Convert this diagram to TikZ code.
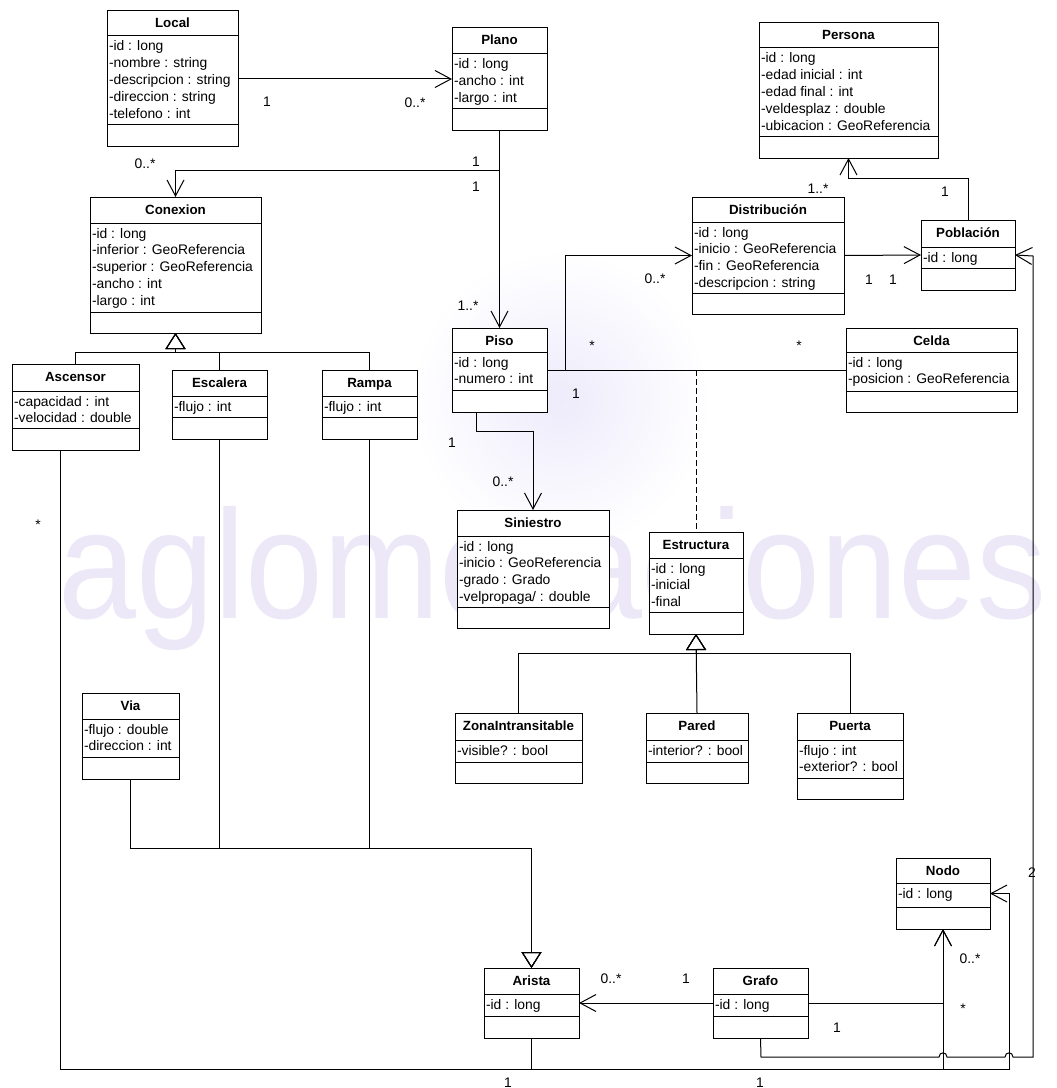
\documentclass[tikz,border=0pt]{standalone}
\usepackage{fontspec}
\setmainfont{Liberation Sans}
\usetikzlibrary{arrows.meta}

\definecolor{wmark}{RGB}{236,232,248}
\definecolor{glow}{RGB}{238,235,251}

% UML class: name, x0, y0, x1, y1, first separator, second separator, title, attributes
\newcommand\UMLbox[9]{%
  \node[classbox, minimum width={(#4-#2)*0.75pt}, minimum height={(#5-#3)*0.75pt}] (#1) at (#2,#3) {};
  \draw[sepline] (#2,#6) -- (#4,#6);
  \draw[sepline] (#2,#7) -- (#4,#7);
  \node[anchor=base, inner sep=0pt, font=\bfseries] at ({(#2+#4)/2},{#3+17}) {#8};
  \foreach \atxt [count=\k] in {#9}
    \node[anchor=base west, inner sep=0pt] at ({#2+1.5},{#6+15+16.8*(\k-1)}) {\atxt};
}

\begin{document}
\begin{tikzpicture}[x=0.75pt, y=-0.75pt,
  font=\fontsize{10.4pt}{12.5pt}\selectfont,
  line width=0.75pt,
  classbox/.style={draw, fill=white, anchor=north west, inner sep=0pt, outer sep=0pt},
  sepline/.style={line width=0.75pt},
  assoc/.style={-{Straight Barb[length=12pt,width=12.75pt]}},
  gen/.style={-{Triangle[open,length=12pt,width=15pt]}},
  lbl/.style={anchor=base, inner sep=0pt}]

\useasboundingbox (0,0) rectangle (1056,1088);
\fill[white] (0,0) rectangle (1056,1088);

% background mark
\shade[inner color=glow, outer color=white] (560,400) circle (150);
\node[anchor=base west, inner sep=0pt, text=wmark, font=\fontsize{116pt}{116pt}\selectfont]
  (mark) at (58,618) {\scalebox{0.905}[1]{aglomeraciones}};

% classes
\UMLbox{local}{107}{11}{238}{146}{36}{124}{Local}{-id : long,-nombre : string,-descripcion : string,-direccion : string,-telefono : int}
\UMLbox{plano}{452}{28}{547}{130}{54}{108}{Plano}{-id : long,-ancho : int,-largo : int}
\UMLbox{persona}{759}{23}{938}{158}{48}{136}{Persona}{-id : long,-edad inicial : int,-edad final : int,-veldesplaz : double,-ubicacion : GeoReferencia}
\UMLbox{conexion}{90}{197}{261}{333}{223}{312}{Conexion}{-id : long,-inferior : GeoReferencia,-superior : GeoReferencia,-ancho : int,-largo : int}
\UMLbox{distribucion}{692}{197}{844}{314}{222}{293}{Distribución}{-id : long,-inicio : GeoReferencia,-fin : GeoReferencia,-descripcion : string}
\UMLbox{poblacion}{921}{220}{1015}{290}{247}{268}{Población}{-id : long}
\UMLbox{piso}{452}{328}{547}{412}{352}{390}{Piso}{-id : long,-numero : int}
\UMLbox{celda}{846}{328}{1017}{412}{352}{391}{Celda}{-id : long,-posicion : GeoReferencia}
\UMLbox{ascensor}{12}{364}{139}{450}{391}{428}{Ascensor}{-capacidad : int,-velocidad : double}
\UMLbox{escalera}{172}{370}{267}{439}{396}{417}{Escalera}{-flujo : int}
\UMLbox{rampa}{322}{370}{417}{439}{396}{417}{Rampa}{-flujo : int}
\UMLbox{siniestro}{457}{510}{609}{628}{536}{607}{Siniestro}{-id : long,-inicio : GeoReferencia,-grado : Grado,-velpropaga/ : double}
\UMLbox{estructura}{649}{532}{743}{634}{558}{612}{Estructura}{-id : long,-inicial,-final}
\UMLbox{zona}{455}{713}{582}{783}{740}{762}{ZonaIntransitable}{-visible? : bool}
\UMLbox{pared}{646}{713}{748}{783}{740}{762}{Pared}{-interior? : bool}
\UMLbox{puerta}{797}{713}{903}{799}{740}{778}{Puerta}{-flujo : int,-exterior? : bool}
\UMLbox{via}{82}{693}{179}{779}{719}{757}{Via}{-flujo : double,-direccion : int}
\UMLbox{nodo}{896}{858}{990}{929}{883}{907}{Nodo}{-id : long}
\UMLbox{arista}{484}{968}{579}{1038}{994}{1016}{Arista}{-id : long}
\UMLbox{grafo}{713}{968}{808}{1038}{994}{1016}{Grafo}{-id : long}

% associations
\draw[assoc] (local.east |- 0,79) -- (plano.west |- 0,79);
\draw[assoc] (plano.south) -- (piso.north);
\draw[assoc] (plano.south |- 0,170) -| (conexion.north);
\draw[assoc] (poblacion.north) |- (persona.south |- 0,178) -- (persona.south);
\draw[assoc] (distribucion.east) -- (poblacion.west);
\draw[assoc] (piso.east) -- (565,370) |- (distribucion.west);
\draw (piso.east) -- (celda.west);
\draw[dashed, dash pattern=on 4.5pt off 2.25pt] (estructura.north |- piso.east) -- (estructura.north);
\draw[assoc] (piso.south -| 476,0) -- (476,431) -| (siniestro.north);
\draw[assoc] (grafo.west) -- (arista.east);
\draw[assoc] (grafo.east) -| (nodo.south);
\draw[assoc] (arista.south) |- (943,1069) -- (nodo.south);
\draw[assoc] (arista.south) |- (1009,1069) |- (nodo.east);
\draw (ascensor.south -| 60,0) |- (arista.south |- 0,1069);
\draw[assoc] (grafo.south) -- (761,1057) -- (939,1057)
  .. controls (939,1051.5) and (947,1051.5) .. (947,1057) -- (1005,1057)
  .. controls (1005,1051.5) and (1013,1051.5) .. (1013,1057) -- (1033,1057)
  -- (1033,256) -- (poblacion.east);

% generalizations
\draw[gen] (ascensor.north) |- (conexion.south |- 0,352) -- (conexion.south);
\draw[gen] (escalera.north) |- (conexion.south |- 0,352) -- (conexion.south);
\draw[gen] (rampa.north) |- (conexion.south |- 0,352) -- (conexion.south);
\draw[gen] (zona.north) |- (estructura.south |- 0,653) -- (estructura.south);
\draw[gen] (pared.north) -- (estructura.south);
\draw[gen] (puerta.north) |- (estructura.south |- 0,653) -- (estructura.south);
\draw[gen] (via.south) |- (arista.north |- 0,848) -- (arista.north);
\draw[gen] (escalera.south) |- (arista.north |- 0,848) -- (arista.north);
\draw[gen] (rampa.south) |- (arista.north |- 0,848) -- (arista.north);

% multiplicities
\node[lbl] at (267,107) {1};
\node[lbl] at (415,108) {0..*};
\node[lbl] at (145,168) {0..*};
\node[lbl] at (476,166) {1};
\node[lbl] at (476,191) {1};
\node[lbl] at (468,310) {1..*};
\node[lbl] at (655,283) {0..*};
\node[lbl] at (818,193) {1..*};
\node[lbl] at (945,196) {1};
\node[lbl] at (869,284) {1};
\node[lbl] at (893,284) {1};
\node[lbl] at (38,529) {*};
\node[lbl] at (592,350) {*};
\node[lbl] at (799,350) {*};
\node[lbl] at (576,398) {1};
\node[lbl] at (452,447) {1};
\node[lbl] at (503,486) {0..*};
\node[lbl] at (1032,877) {2};
\node[lbl] at (970,963) {0..*};
\node[lbl] at (963,1013) {*};
\node[lbl] at (837,1032) {1};
\node[lbl] at (611,983) {0..*};
\node[lbl] at (686,983) {1};
\node[lbl] at (760,1087) {1};
\node[lbl] at (508,1087) {1};
\end{tikzpicture}
\end{document}
